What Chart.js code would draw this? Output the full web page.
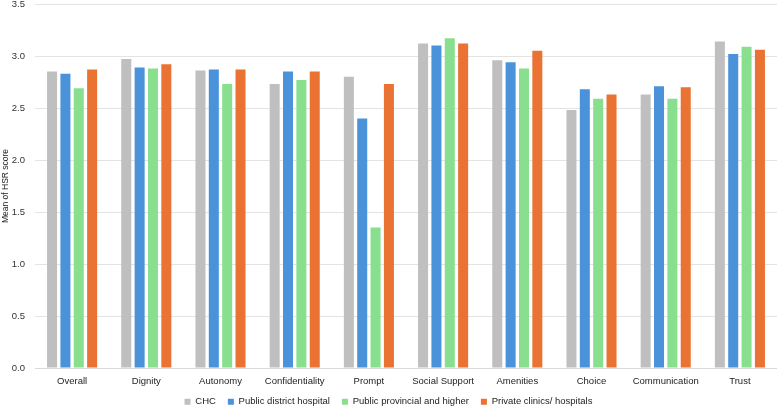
<!DOCTYPE html>
<html>
<head>
<meta charset="utf-8">
<script src="https://cdn.jsdelivr.net/npm/chart.js@4"></script>
<style>
html,body{margin:0;padding:0;background:#fff;}
#wrap{width:777px;height:406px;position:relative;}
</style>
</head>
<body>
<div id="wrap"><canvas id="c"></canvas></div>
<script>
const categories = ["Overall","Dignity","Autonomy","Confidentiality","Prompt","Social Support","Amenities","Choice","Communication","Trust"];
const seriesNames = ["CHC","Public district hospital","Public provincial and higher","Private clinics/ hospitals"];
const chc      = [2.85,2.97,2.86,2.73,2.80,3.12,2.96,2.48,2.63,3.14];
const district = [2.83,2.89,2.87,2.85,2.40,3.10,2.94,2.68,2.71,3.02];
const provincial=[2.69,2.88,2.73,2.77,1.35,3.17,2.88,2.59,2.59,3.09];
const privateC = [2.87,2.92,2.87,2.85,2.73,3.12,3.05,2.63,2.70,3.06];
const yTicks = [0,0.5,1,1.5,2,2.5,3,3.5];
const colors = ["#BFBFBF","#4A93DA","#88E08E","#EA7233"];

const seriesValues=[chc,district,provincial,privateC];
const font = "'Liberation Sans', Arial, sans-serif";

const legendFix = {
  id:'legendFix',
  beforeInit(chart){
    const lg = chart.legend;
    const orig = lg.fit;
    lg.fit = function(){ orig.call(this); this.height = 19; };
  },
  afterLayout(chart){
    chart.legend.top -= 2;
  }
};

new Chart(document.getElementById('c'),{
  type:'bar',
  data:{
    labels:categories,
    datasets:seriesValues.map((v,i)=>({
      label:seriesNames[i],
      data:v,
      backgroundColor:colors[i],
      borderWidth:0,
      categoryPercentage:0.72,
      barPercentage:0.75
    }))
  },
  plugins:[legendFix],
  options:{
    responsive:true,
    maintainAspectRatio:false,
    animation:false,
    layout:{padding:{left:0,right:0,top:4,bottom:0}},
    plugins:{
      legend:{
        position:'bottom',
        labels:{boxWidth:6,boxHeight:6,padding:12,color:'#222',font:{family:font,size:9.5}}
      },
      tooltip:{enabled:false}
    },
    scales:{
      x:{
        grid:{display:false,drawTicks:false},
        border:{color:'#D9D9D9'},
        afterFit:(s)=>{s.paddingLeft=0;s.paddingRight=0;s.height=19;},
        ticks:{color:'#222',font:{family:font,size:9.5},padding:8,maxRotation:0,autoSkip:false}
      },
      y:{
        min:0,max:3.5,
        afterBuildTicks:(s)=>{s.ticks=yTicks.map(v=>({value:v}));},
        afterFit:(s)=>{s.width=35;s.paddingTop=0;s.paddingBottom=0;},
        grid:{color:'#E3E3E3',drawTicks:false},
        border:{display:false},
        ticks:{color:'#333',font:{family:font,size:9.5},padding:10,callback:(v)=>Number(v).toFixed(1)},
        title:{display:true,text:'Mean of HSR score',color:'#222',font:{family:font,size:8.5},padding:{top:1,bottom:0}}
      }
    }
  }
});
</script>
</body>
</html>
